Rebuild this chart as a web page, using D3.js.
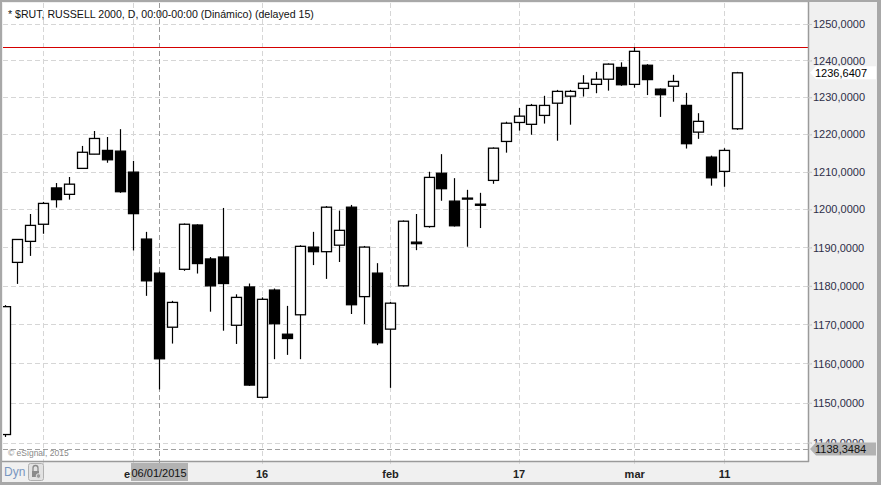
<!DOCTYPE html>
<html>
<head>
<meta charset="utf-8">
<script src="https://cdn.jsdelivr.net/npm/d3@7"></script>
<style>
  body { margin: 0; background: #fff; }
  svg text { font-family: "Liberation Sans", Arial, sans-serif; }
</style>
</head>
<body>
<div class="contenedor_grafico"></div>
<script>
// daily bars, $RUT Dec 2014 - Mar 2015
const dates = ["2014-12-17","2014-12-18","2014-12-19","2014-12-22","2014-12-23","2014-12-24","2014-12-26","2014-12-29","2014-12-30","2014-12-31",
  "2015-01-02","2015-01-05","2015-01-06","2015-01-07","2015-01-08","2015-01-09","2015-01-12","2015-01-13","2015-01-14","2015-01-15",
  "2015-01-16","2015-01-20","2015-01-21","2015-01-22","2015-01-23","2015-01-26","2015-01-27","2015-01-28","2015-01-29","2015-01-30",
  "2015-02-02","2015-02-03","2015-02-04","2015-02-05","2015-02-06","2015-02-09","2015-02-10","2015-02-11","2015-02-12","2015-02-13",
  "2015-02-17","2015-02-18","2015-02-19","2015-02-20","2015-02-23","2015-02-24","2015-02-25","2015-02-26","2015-02-27","2015-03-02",
  "2015-03-03","2015-03-04","2015-03-05","2015-03-06","2015-03-09","2015-03-10","2015-03-11","2015-03-12"];
const opens = [1142.0,1186.1,1191.6,1196.1,1205.7,1204.0,1210.9,1214.7,1215.7,1215.5,
  1209.9,1192.2,1183.3,1169.3,1184.3,1195.9,1187.0,1187.5,1169.8,1179.7,
  1151.4,1178.9,1167.5,1172.5,1190.1,1188.9,1190.6,1200.6,1177.2,1183.3,
  1168.8,1180.0,1191.4,1195.5,1209.6,1202.2,1202.8,1201.4,1207.7,1218.1,
  1223.2,1222.7,1225.1,1228.4,1230.3,1232.4,1233.5,1234.9,1238.1,1233.5,
  1238.7,1232.2,1233.0,1227.8,1220.6,1213.9,1210.1,1221.5];
const highs = [1175.0,1192.1,1198.8,1202.0,1207.0,1208.6,1216.9,1220.9,1219.3,1221.4,
  1212.9,1194.1,1183.7,1176.1,1196.3,1196.1,1187.5,1200.4,1177.8,1180.6,
  1177.0,1179.3,1174.8,1190.6,1194.1,1200.9,1199.7,1201.2,1190.4,1185.9,
  1175.8,1197.1,1198.8,1210.0,1214.7,1208.3,1205.2,1204.4,1216.5,1223.4,
  1227.1,1228.2,1230.4,1232.0,1232.0,1236.0,1236.9,1239.2,1239.5,1243.6,
  1239.0,1232.4,1236.1,1231.2,1225.7,1214.3,1216.3,1236.9];
const lows = [1141.4,1180.5,1187.8,1193.6,1200.5,1202.6,1210.9,1214.7,1212.4,1204.4,
  1189.2,1177.4,1153.4,1165.1,1183.9,1183.2,1173.3,1168.4,1165.0,1154.3,
  1151.1,1161.1,1162.2,1161.1,1185.4,1181.8,1186.2,1172.7,1170.1,1164.7,
  1153.8,1179.8,1189.3,1195.2,1202.3,1195.5,1190.2,1195.1,1206.8,1215.1,
  1221.0,1219.9,1222.9,1218.3,1222.6,1230.2,1231.1,1231.8,1233.1,1232.6,
  1230.6,1224.7,1228.8,1216.2,1218.8,1206.3,1206.0,1221.2];
const closes = [1174.6,1192.1,1195.8,1201.6,1202.6,1206.7,1215.2,1218.9,1213.2,1204.7,
  1198.9,1181.3,1161.2,1175.7,1196.1,1185.8,1180.0,1180.6,1177.0,1154.5,
  1176.5,1170.2,1166.4,1190.3,1188.9,1200.6,1194.5,1175.1,1190.1,1165.3,
  1175.5,1196.9,1191.0,1208.5,1205.5,1195.7,1203.0,1201.1,1216.3,1223.0,
  1224.9,1227.8,1227.8,1231.6,1231.6,1233.8,1234.9,1239.0,1233.4,1242.5,
  1234.8,1230.7,1234.3,1217.5,1223.5,1208.4,1215.7,1236.6407];

const priceTicks = [1140,1150,1160,1170,1180,1190,1200,1210,1220,1230,1240,1250];
const dateTicks = ["2014-12-22","2015-01-02","2015-01-16","2015-02-02","2015-02-17","2015-03-02","2015-03-11"];
const dateTickLabels = ["","ene","16","feb","17","mar","11"];
const cursorDate = "2015-01-06";
const cursorLabel = "06/01/2015";
const lastPrice = 1236.6407;
const lowMark = 1138.3484;
const title = "* $RUT, RUSSELL 2000, D, 00:00-00:00 (Dinámico) (delayed 15)";

const width = 881;
const height = 485;
const plotL = 3, plotR = 808, plotT = 3, plotB = 461;
const bodyW = 10;

const svg = d3.select(".contenedor_grafico")
  .append("svg")
  .attr("width", width)
  .attr("height", height)
  .style("display", "block");

const x = d3.scalePoint().domain(dates).range([4.5, 737]);
const y = d3.scaleLog().domain([1140, 1250]).range([442.5, 24]);
const fmt = (v) => d3.format(".4f")(v).replace(".", ",");

// frame + panels
svg.append("rect").attr("width", width).attr("height", height).attr("fill", "#a8a8a8");
svg.append("rect").attr("x", 2).attr("y", 2).attr("width", 875).attr("height", 480).attr("fill", "#f0f0f0");
svg.append("rect").attr("x", plotL).attr("y", plotT).attr("width", plotR - plotL).attr("height", plotB - plotT).attr("fill", "#fff");

// horizontal grid
svg.append("g")
  .selectAll("line")
  .data(priceTicks)
  .join("line")
  .attr("x1", plotL).attr("x2", plotR + 4)
  .attr("y1", (d) => Math.round(y(d)) + 0.5)
  .attr("y2", (d) => Math.round(y(d)) + 0.5)
  .attr("stroke", "#d6d6d6")
  .attr("stroke-dasharray", "5,3");

// vertical grid
svg.append("g")
  .selectAll("line")
  .data(dateTicks)
  .join("line")
  .attr("x1", (d) => Math.round(x(d)) + 0.5)
  .attr("x2", (d) => Math.round(x(d)) + 0.5)
  .attr("y1", plotT).attr("y2", plotB + 5)
  .attr("stroke", "#d6d6d6")
  .attr("stroke-dasharray", "5,3");

// low marker line
svg.append("line")
  .attr("x1", plotL).attr("x2", plotR + 4)
  .attr("y1", Math.round(y(lowMark)) + 0.5).attr("y2", Math.round(y(lowMark)) + 0.5)
  .attr("stroke", "#a0a0a0")
  .attr("stroke-dasharray", "5,3");

// cursor line
svg.append("line")
  .attr("x1", Math.round(x(cursorDate)) + 0.5).attr("x2", Math.round(x(cursorDate)) + 0.5)
  .attr("y1", plotT).attr("y2", plotB + 3)
  .attr("stroke", "#9a9a9a")
  .attr("stroke-dasharray", "5,3");

// highest high line
svg.append("line")
  .attr("x1", plotL).attr("x2", plotR)
  .attr("y1", Math.round(y(d3.max(highs))) + 0.5).attr("y2", Math.round(y(d3.max(highs))) + 0.5)
  .attr("stroke", "#d40000")
  .attr("stroke-width", 1);

// candles
svg.append("clipPath").attr("id", "plotclip")
  .append("rect").attr("x", plotL).attr("y", plotT).attr("width", plotR - plotL).attr("height", plotB - plotT);

const candles = svg.append("g").attr("clip-path", "url(#plotclip)")
  .selectAll("g")
  .data(dates)
  .join("g");

candles.append("line")
  .attr("x1", (d) => Math.round(x(d)) + 0.5)
  .attr("x2", (d) => Math.round(x(d)) + 0.5)
  .attr("y1", (d, i) => y(highs[i]))
  .attr("y2", (d, i) => y(lows[i]))
  .attr("stroke", "#000")
  .attr("stroke-width", 1.2);

candles.append("rect")
  .attr("x", (d) => Math.round(x(d)) - bodyW / 2 + 0.5)
  .attr("width", bodyW)
  .attr("y", (d, i) => y(Math.max(opens[i], closes[i])))
  .attr("height", (d, i) => Math.max(1, y(Math.min(opens[i], closes[i])) - y(Math.max(opens[i], closes[i]))))
  .attr("fill", (d, i) => (closes[i] >= opens[i] ? "#fff" : "#000"))
  .attr("stroke", "#000")
  .attr("stroke-width", 1.3);

// plot borders
svg.append("line").attr("x1", plotR + 0.5).attr("x2", plotR + 0.5).attr("y1", 2).attr("y2", plotB + 1).attr("stroke", "#9a9a9a").attr("stroke-width", 1.5);
svg.append("line").attr("x1", 2).attr("x2", plotR + 1).attr("y1", plotB + 0.5).attr("y2", plotB + 0.5).attr("stroke", "#9a9a9a").attr("stroke-width", 1.5);

// title + copyright
svg.append("text").attr("x", 8).attr("y", 18).attr("font-size", 10.6).attr("fill", "#111").text(title);
svg.append("text").attr("x", 8).attr("y", 456).attr("font-size", 8.5).attr("fill", "#8a8a8a").text("© eSignal, 2015");

// right axis
const yAxis = svg.append("g")
  .attr("transform", `translate(${plotR}, 0)`)
  .call(d3.axisRight(y).tickValues(priceTicks).tickFormat(fmt).tickSize(4).tickPadding(1));
yAxis.select(".domain").remove();
yAxis.selectAll(".tick line").attr("stroke", "#c8c8c8");
yAxis.selectAll(".tick text")
  .attr("font-size", 11)
  .attr("font-family", "Liberation Sans, Arial, sans-serif")
  .attr("fill", "#2e2e48");

// bottom axis
const xAxis = svg.append("g")
  .attr("transform", `translate(0, ${plotB})`)
  .call(d3.axisBottom(x).tickValues(dateTicks).tickFormat((d, i) => dateTickLabels[i]).tickSize(0).tickPadding(9));
xAxis.select(".domain").remove();
xAxis.selectAll(".tick text")
  .attr("font-size", 11)
  .attr("font-weight", "bold")
  .attr("font-family", "Liberation Sans, Arial, sans-serif")
  .attr("fill", "#222");

// cursor date box
const cx = Math.round(x(cursorDate));
svg.append("rect").attr("x", cx - 28).attr("y", 463).attr("width", 57).attr("height", 18).attr("fill", "#b2b2b2");
svg.append("text").attr("x", cx).attr("y", 477).attr("text-anchor", "middle").attr("font-size", 11).attr("fill", "#111").text(cursorLabel);

// price flags
function flag(v, bg, fg) {
  const yy = y(v);
  const g = svg.append("g");
  g.append("path")
    .attr("d", `M${plotR + 2},${yy} L${plotR + 8},${yy - 6.5} L${plotR + 68},${yy - 6.5} L${plotR + 68},${yy + 6.5} L${plotR + 8},${yy + 6.5} Z`)
    .attr("fill", bg);
  g.append("text").attr("x", plotR + 7).attr("y", yy + 4).attr("font-size", 11).attr("fill", fg).text(fmt(v));
}
flag(lastPrice, "#fff", "#000");
flag(lowMark, "#b2b2b2", "#111");

// Dyn + lock button
svg.append("text").attr("x", 4).attr("y", 476).attr("font-size", 12).attr("fill", "#7896c0").text("Dyn");
svg.append("rect").attr("x", 28.5).attr("y", 463.5).attr("width", 15).attr("height", 17).attr("rx", 2)
  .attr("fill", "#e2e2e2").attr("stroke", "#b0b0b0");
svg.append("path").attr("d", "M33,471 v-3 a2.5,2.5 0 0 1 5,0 v3").attr("fill", "none").attr("stroke", "#8a8a8a").attr("stroke-width", 1.3);
svg.append("rect").attr("x", 32).attr("y", 471).attr("width", 7).attr("height", 6).attr("fill", "#8a8a8a");
svg.append("circle").attr("cx", 38.5).attr("cy", 476).attr("r", 2.3).attr("fill", "#9a9a9a").attr("stroke", "#e2e2e2");
</script>
</body>
</html>
